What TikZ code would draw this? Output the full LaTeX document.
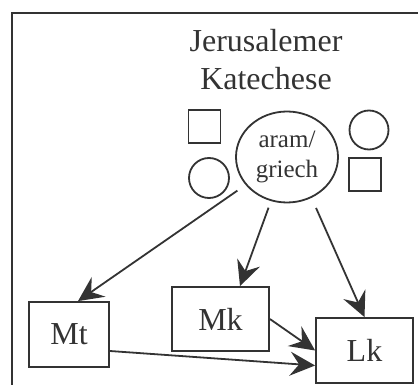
\documentclass[tikz,border=0pt]{standalone}
\usepackage{fontspec}
\setmainfont{Liberation Serif}
\usetikzlibrary{arrows.meta,shapes.geometric}
\definecolor{ink}{HTML}{333333}
\begin{document}
\begin{tikzpicture}[x=1pt,y=-1pt,
  every node/.style={text=ink},
  box/.style={draw=ink, line width=1.8pt, rectangle, inner sep=0pt},
  sq/.style={draw=ink, line width=1.8pt, rectangle, inner sep=0pt, minimum width=32pt, minimum height=33pt},
  circ/.style={draw=ink, line width=1.8pt, circle, inner sep=0pt, minimum size=40pt},
  arr/.style={draw=ink, line width=1.8pt, -{Stealth[length=25pt, width=24pt, inset=9pt]}},
  big/.style={font=\fontsize{32}{38}\selectfont, align=center}]
\useasboundingbox (0,0) rectangle (418,387);
\draw[ink, line width=1.8pt] (12,385) -- (12,13) -- (420,13);
\node[big] (title) at (266,60) {Jerusalemer\\Katechese};
\node[draw=ink, line width=1.8pt, ellipse, inner sep=0pt, minimum width=102pt, minimum height=91pt,
      font=\fontsize{25}{30}\selectfont, align=center] (ell) at (287,157) {aram/\\griech};
\node[sq] (sq1) at (204.5,126.5) {};
\node[circ] (c1) at (209,178) {};
\node[circ, minimum size=39pt] (c2) at (369,130) {};
\node[sq] (sq2) at (365,174.5) {};
\node[box, big, minimum width=80pt, minimum height=65pt] (Mt) at (69,334.5) {Mt};
\node[box, big, minimum width=97pt, minimum height=64pt] (Mk) at (220.5,319) {Mk};
\node[box, big, minimum width=97pt, minimum height=65pt] (Lk) at (364.5,350.5) {Lk};
\draw[arr, shorten <=10pt] (ell.-146) -- ([xshift=9pt]Mt.north);
\draw[arr, shorten <=7pt] (ell.-110) -- ([xshift=19.5pt]Mk.north);
\draw[arr, shorten <=11pt] (ell.-59) -- (Lk.north);
\draw[arr] (Mk.east) -- (Lk.west);
\draw[arr] ([yshift=-16.5pt]Mt.east) -- ([yshift=-15pt]Lk.west);
\end{tikzpicture}
\end{document}
